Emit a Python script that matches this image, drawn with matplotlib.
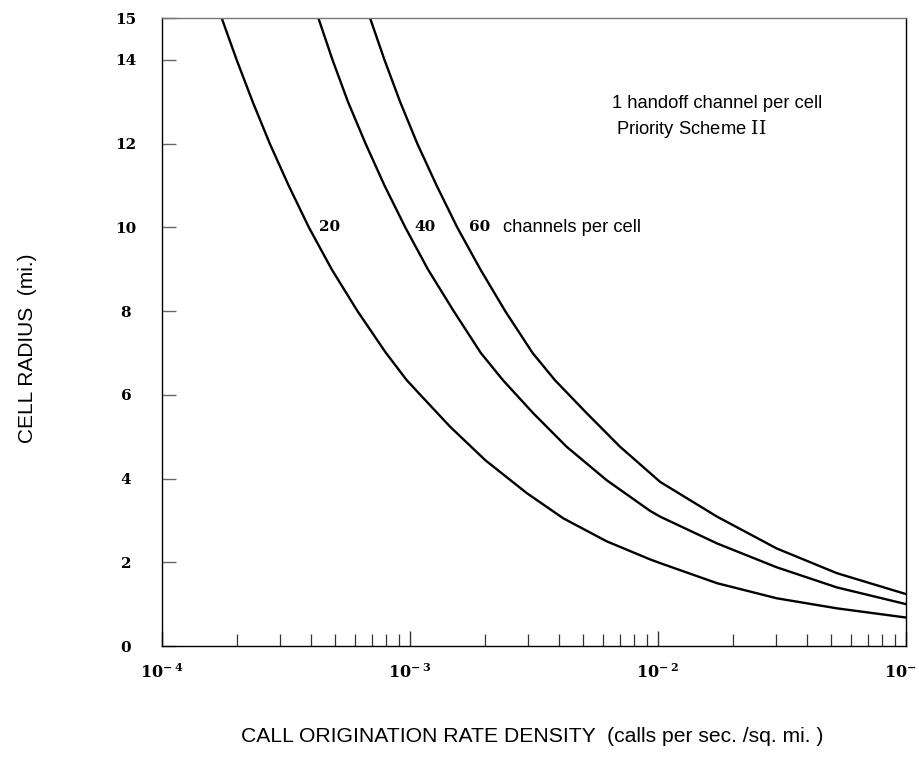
import matplotlib
matplotlib.use("Agg")
from matplotlib import pyplot as plt
from matplotlib.ticker import FixedLocator, NullFormatter

# curves: call origination rate density vs cell radius
rate_20 = [1.74e-4, 2.00e-4, 2.32e-4, 2.72e-4, 3.24e-4, 3.91e-4, 4.83e-4, 6.14e-4,
           8.00e-4, 9.70e-4, 1.10e-3, 1.45e-3, 2.01e-3, 2.96e-3, 4.15e-3, 6.21e-3,
           9.28e-3, 1.02e-2, 1.73e-2, 3.01e-2, 5.26e-2, 1.0e-1]
radius_20 = [15.0, 14.0, 13.0, 12.0, 11.0, 10.0, 9.0, 8.0,
             7.0, 6.35, 6.0, 5.24, 4.44, 3.65, 3.05, 2.50,
             2.07, 1.98, 1.50, 1.14, 0.90, 0.68]

rate_40 = [4.27e-4, 4.87e-4, 5.62e-4, 6.62e-4, 7.89e-4, 9.57e-4, 1.18e-3, 1.50e-3,
           1.93e-3, 2.37e-3, 3.14e-3, 4.28e-3, 6.21e-3, 9.28e-3, 1.02e-2, 1.73e-2,
           3.01e-2, 5.26e-2, 1.0e-1]
radius_40 = [15.0, 14.0, 13.0, 12.0, 11.0, 10.0, 9.0, 8.0,
             7.0, 6.35, 5.56, 4.76, 3.96, 3.23, 3.09, 2.45,
             1.88, 1.40, 1.00]

rate_60 = [6.90e-4, 7.89e-4, 9.12e-4, 1.07e-3, 1.28e-3, 1.55e-3, 1.92e-3, 2.42e-3,
           3.12e-3, 3.84e-3, 5.16e-3, 7.03e-3, 1.02e-2, 1.73e-2, 3.01e-2, 5.26e-2,
           1.0e-1]
radius_60 = [15.0, 14.0, 13.0, 12.0, 11.0, 10.0, 9.0, 8.0,
             7.0, 6.35, 5.56, 4.76, 3.92, 3.09, 2.33, 1.74,
             1.24]

y_ticks = [0, 2, 4, 6, 8, 10, 12, 14, 15]
x_major = [1e-4, 1e-3, 1e-2, 1e-1]
x_labels = [r'$\mathbf{10^{-\;4}}$', r'$\mathbf{10^{-\;3}}$',
            r'$\mathbf{10^{-\;2}}$', r'$\mathbf{10^{-\;1}}$']
curve_labels = ['20', '40', '60']
curve_label_x = [4.75e-4, 1.15e-3, 1.91e-3]

plt.rcParams['mathtext.fontset'] = 'dejavuserif'
serif = dict(family='DejaVu Serif', weight='bold', size=11)
sans = 'Liberation Sans'

fig = plt.figure(figsize=(9.19, 7.59), dpi=100)
ax = fig.add_axes([162 / 919, 113 / 759, 744 / 919, 628 / 759])

for xs, ys in [(rate_20, radius_20), (rate_40, radius_40), (rate_60, radius_60)]:
    ax.plot(xs, ys, color='black', lw=1.7, solid_joinstyle='round')

ax.set_xscale('log')
ax.set_xlim(1e-4, 1e-1)
ax.set_ylim(0, 15)

# axis frame
for s in ['left', 'bottom', 'right']:
    ax.spines[s].set_linewidth(1.0)
    ax.spines[s].set_color('black')
ax.spines['top'].set_color('#777777')
ax.spines['top'].set_linewidth(1.0)

# y ticks
ax.set_yticks(y_ticks)
ax.set_yticklabels([str(v) for v in y_ticks], fontdict=serif)
ax.tick_params(axis='y', direction='in', length=10, width=1.0, color='#666666', pad=26)
for lab in ax.get_yticklabels():
    lab.set_horizontalalignment('center')

# x ticks
ax.xaxis.set_major_locator(FixedLocator(x_major))
ax.set_xticklabels(x_labels, fontsize=11.5)
ax.xaxis.set_minor_locator(FixedLocator([m * d for d in [1e-4, 1e-3, 1e-2] for m in range(2, 10)]))
ax.xaxis.set_minor_formatter(NullFormatter())
ax.tick_params(axis='x', which='major', direction='in', length=11, width=1.0, color='#333333', pad=12)
ax.tick_params(axis='x', which='minor', direction='in', length=8.5, width=0.9, color='#333333')

# curve labels
for lx, txt in zip(curve_label_x, curve_labels):
    ax.text(lx, 10.0, txt, ha='center', va='center', **serif)
ax.text(2.37e-3, 10.0, 'channels per cell', family=sans, size=13.2, ha='left', va='center')

ax.text(6.53e-3, 12.95, '1 handoff channel per cell', family=sans, size=13.2,
        ha='left', va='center')
ax.text(6.78e-3, 12.35, r'Priority Scheme $\mathrm{II}$', family=sans, size=13.2,
        ha='left', va='center')

fig.text(28 / 919, 1 - 348 / 759, 'CELL RADIUS  (mi.)', family=sans, size=15,
         rotation=90, ha='center', va='center')
fig.text(532 / 919, 1 - 737 / 759,
         'CALL ORIGINATION RATE DENSITY  (calls per sec. /sq. mi. )',
         family=sans, size=15.2, ha='center', va='center')

fig.savefig('out.png', dpi=100)
